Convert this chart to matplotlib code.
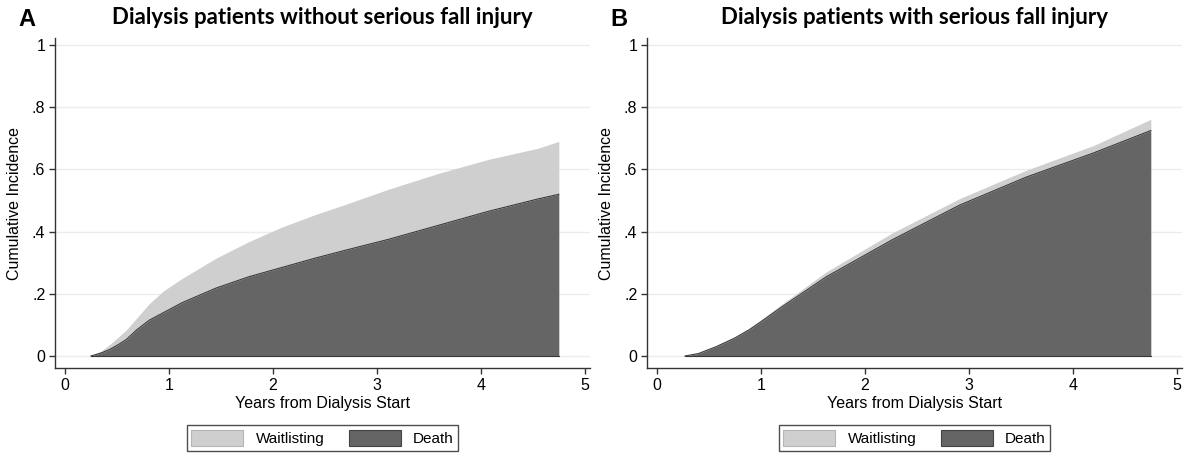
import matplotlib
matplotlib.use("Agg")
import matplotlib.pyplot as plt
from matplotlib.patches import Patch
import numpy as np

# ---- data ----
years_a = [0.25, 0.35, 0.43, 0.51, 0.59, 0.69, 0.81, 0.95, 1.13, 1.45, 1.77, 2.09, 2.41, 2.72,
           3.11, 3.59, 4.07, 4.55, 4.75]
death_a = [0, 0.010, 0.021, 0.036, 0.053, 0.084, 0.115, 0.14, 0.172, 0.218, 0.255, 0.285, 0.315,
           0.342, 0.375, 0.42, 0.465, 0.505, 0.52]
wait_a = [0, 0.006, 0.016, 0.024, 0.031, 0.038, 0.053, 0.07, 0.078, 0.096, 0.113, 0.13, 0.14,
          0.148, 0.161, 0.167, 0.167, 0.163, 0.17]

years_b = [0.27, 0.4, 0.57, 0.75, 0.89, 1.0, 1.21, 1.63, 2.27, 2.91, 3.55, 4.2, 4.75]
death_b = [0, 0.008, 0.03, 0.058, 0.085, 0.11, 0.16, 0.255, 0.375, 0.485, 0.575, 0.653, 0.725]
wait_b = [0, 0, 0.002, 0.004, 0.005, 0.007, 0.009, 0.016, 0.022, 0.021, 0.022, 0.024, 0.036]

titles = ["Dialysis patients without serious fall injury", "Dialysis patients with serious fall injury"]
panel_letters = ["A", "B"]
series_labels = ["Waitlisting", "Death"]
xticks = [0, 1, 2, 3, 4, 5]
yticks = [0, 0.2, 0.4, 0.6, 0.8, 1.0]
yticklabels = ["0", ".2", ".4", ".6", ".8", "1"]
xlabel = "Years from Dialysis Start"
ylabel = "Cumulative Incidence"

death_color = "#656565"
wait_color = "#cfcfcf"

W, H = 1185, 457
fig = plt.figure(figsize=(W / 100, H / 100), dpi=100)
fig.patch.set_facecolor("white")

sans = ["Liberation Sans", "DejaVu Sans"]
fs = 11.5

panels = [(years_a, death_a, wait_a), (years_b, death_b, wait_b)]
lefts = [55, 647]
for i, (yrs, dth, wt) in enumerate(panels):
    l = lefts[i]
    ax = fig.add_axes([l / W, 1 - 368 / H, 535 / W, 330 / H])
    yrs = np.array(yrs)
    dth = np.array(dth)
    tot = dth + np.array(wt)
    ax.fill_between(yrs, dth, tot, color=wait_color, lw=0, zorder=2)
    ax.fill_between(yrs, 0, dth, color=death_color, lw=0, zorder=3)
    ax.plot(yrs, dth, color="#3a3a3a", lw=0.8, zorder=4)
    ax.plot([yrs[0], yrs[-1]], [0, 0], color="#3a3a3a", lw=0.8, zorder=4)
    ax.set_xlim(-0.096, 5.05)
    ax.set_ylim(-0.0386, 1.0225)
    ax.set_xticks(xticks)
    ax.set_xticklabels([str(t) for t in xticks], fontfamily=sans, fontsize=fs)
    ax.set_yticks(yticks)
    ax.set_yticklabels(yticklabels, fontfamily=sans, fontsize=fs)
    ax.grid(axis="y", color="#ececec", lw=1, zorder=0)
    ax.set_axisbelow(True)
    for s in ["top", "right"]:
        ax.spines[s].set_visible(False)
    for s in ["left", "bottom"]:
        ax.spines[s].set_color("#333333")
        ax.spines[s].set_linewidth(1.0)
    ax.tick_params(direction="out", length=4, width=1, color="#333333", pad=3)
    ax.set_xlabel(xlabel, fontfamily=sans, fontsize=fs, labelpad=2)
    ax.set_ylabel(ylabel, fontfamily=sans, fontsize=fs, labelpad=7)
    ax.set_title(titles[i], fontfamily=["Lato", "DejaVu Sans"], fontweight="bold",
                 fontsize=16, pad=10)
    fig.text((l - 37) / W, 1 - 20 / H, panel_letters[i], fontfamily=sans,
             fontweight="bold", fontsize=17, ha="left", va="center")
    handles = [Patch(facecolor=wait_color, edgecolor="#b5b5b5", lw=0.8),
               Patch(facecolor=death_color, edgecolor="#444444", lw=0.8)]
    leg = ax.legend(handles, series_labels, loc="center", bbox_to_anchor=(0.5, -0.212),
                    ncol=2, frameon=True, fancybox=False, edgecolor="#222222",
                    handlelength=3.4, handleheight=1.2, columnspacing=1.6,
                    handletextpad=0.8, borderpad=0.3, prop={"family": sans, "size": 11})
    leg.get_frame().set_linewidth(1.0)

fig.savefig("out.png", dpi=100)
